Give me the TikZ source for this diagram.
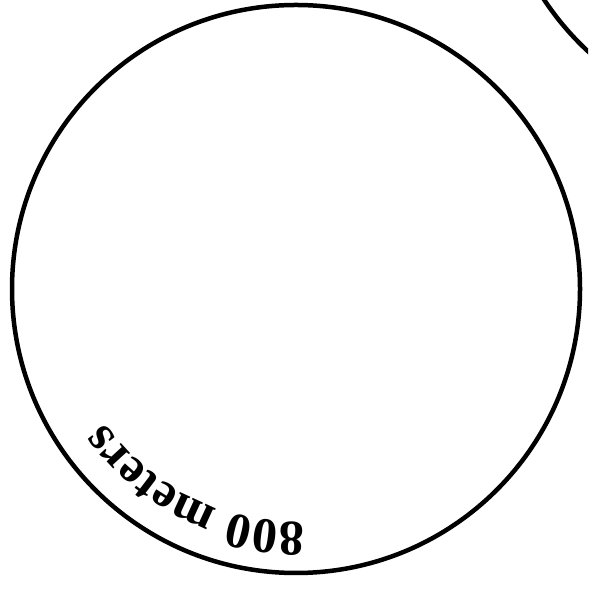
\documentclass[tikz,border=0pt]{standalone}
\usepackage{fontspec}
\setmainfont{Liberation Serif}
\usepackage{tikz}
\usetikzlibrary{decorations.text}

\begin{document}
\begin{tikzpicture}[x=1pt,y=1pt]
\useasboundingbox (0,0) rectangle (588,593);
\clip (0,0) rectangle (588,593);
\coordinate (track) at (296,304);
\coordinate (nexttrack) at (781,750);
\draw[line width=4.5pt] (track) circle[radius=284];
\draw[line width=4.5pt] (nexttrack) circle[radius=284];
\path[decorate,decoration={text along path,text align=left,
  text={|\fontsize{50}{50}\selectfont\bfseries|800 meters}}]
  ([shift={(272:233)}]track) arc[start angle=272,end angle=195,radius=233];
\end{tikzpicture}
\end{document}
